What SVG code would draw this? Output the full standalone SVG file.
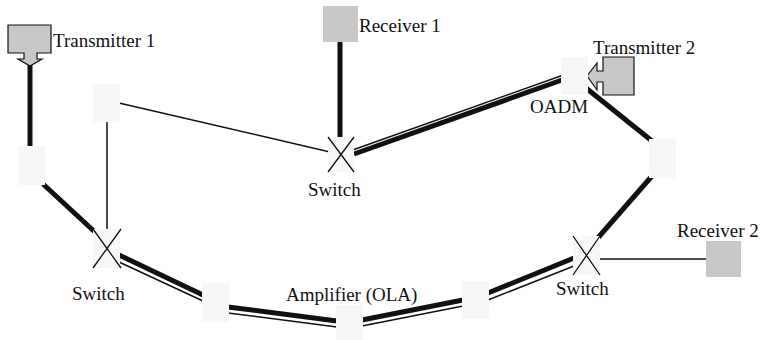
<svg xmlns="http://www.w3.org/2000/svg" width="761" height="340" viewBox="0 0 761 340">
  <style>
    .label { font-family: "Liberation Serif", "Times New Roman", serif; font-size: 19px; fill: #111; }
    .thick { stroke: #111; stroke-width: 5; fill: none; }
    .thin { stroke: #111; stroke-width: 1.5; fill: none; }
    .node { fill: #f7f7f7; stroke: none; }
    .term { fill: #c8c8c8; }
    .tx { fill: #c8c8c8; stroke: #111; stroke-width: 1.2; }
    .cross { stroke: #111; stroke-width: 1.3; fill: none; }
  </style>
  <rect width="761" height="340" fill="#ffffff"/>

  <g id="connectors">
    <!-- single thick fibre -->
    <line class="thick" x1="30" y1="64" x2="30" y2="148"/>
    <line class="thick" x1="43" y1="184" x2="96" y2="233"/>
    <line class="thick" x1="340" y1="42" x2="340" y2="139"/>
    <line class="thick" x1="586" y1="88" x2="652" y2="141"/>
    <line class="thick" x1="652" y1="176" x2="596" y2="240"/>
    <!-- thin links -->
    <line class="thin" x1="107" y1="121" x2="107" y2="231"/>
    <line class="thin" x1="119" y1="103" x2="330" y2="152"/>
    <line class="thin" x1="599" y1="259" x2="707" y2="259"/>
    <!-- double fibre: switch 2 to OADM -->
    <line class="thick" x1="354" y1="154" x2="562" y2="80"/>
    <line class="thin" x1="354" y1="149.5" x2="562" y2="75.5"/>
    <!-- double fibre: switch 1 to amplifier -->
    <line class="thick" x1="119" y1="255" x2="203" y2="295"/>
    <line class="thin" x1="119" y1="262" x2="203" y2="301"/>
    <!-- double fibre: amplifier to node -->
    <line class="thick" x1="228" y1="307" x2="337" y2="321"/>
    <line class="thin" x1="228" y1="313" x2="337" y2="327"/>
    <!-- double fibre: node to node -->
    <line class="thick" x1="362" y1="320" x2="463" y2="300"/>
    <line class="thin" x1="362" y1="326" x2="463" y2="306"/>
    <!-- double fibre: node to switch 3 -->
    <line class="thick" x1="488" y1="293" x2="574" y2="258"/>
    <line class="thin" x1="488" y1="300" x2="574" y2="266"/>
  </g>

  <g id="transmitter1">
    <path class="tx" d="M8,25 H51 V53 H37 V59 H42 L30,66 L18,59 H24 V53 H8 Z"/>
    <text class="label" x="53" y="47">Transmitter 1</text>
  </g>

  <g id="receiver1">
    <rect class="term" x="323" y="6" width="35" height="36"/>
    <text class="label" x="359" y="32">Receiver 1</text>
  </g>

  <g id="transmitter2">
    <path class="tx" d="M634,57 V95 H603 V82 H597 V90 L587,76 L597,63 V71 H603 V57 Z"/>
    <text class="label" x="593" y="54">Transmitter 2</text>
  </g>

  <g id="receiver2">
    <rect class="term" x="706" y="241" width="35" height="36"/>
    <text class="label" x="677" y="237">Receiver 2</text>
  </g>

  <g id="node-left-upper">
    <rect class="node" x="18" y="146" width="27" height="39"/>
  </g>

  <g id="node-left-top">
    <rect class="node" x="93" y="84" width="27" height="38"/>
  </g>

  <g id="switch1">
    <rect class="node" x="93" y="229" width="27" height="39"/>
    <path class="cross" d="M93,229 L121,268 M121,229 L93,268"/>
    <text class="label" x="72" y="300">Switch</text>
  </g>

  <g id="switch2">
    <rect class="node" x="328" y="137" width="26" height="35"/>
    <path class="cross" d="M328,137 L354,172 M354,137 L328,172"/>
    <text class="label" x="308" y="196">Switch</text>
  </g>

  <g id="switch3">
    <rect class="node" x="573" y="236" width="27" height="39"/>
    <path class="cross" d="M573,236 L600,275 M600,236 L573,275"/>
    <text class="label" x="556" y="295">Switch</text>
  </g>

  <g id="oadm">
    <rect class="node" x="561" y="57" width="27" height="38"/>
    <text class="label" x="530" y="113">OADM</text>
  </g>

  <g id="node-right">
    <rect class="node" x="649" y="139" width="27" height="39"/>
  </g>

  <g id="amplifier">
    <rect class="node" x="202" y="283" width="27" height="39"/>
  </g>

  <g id="ola">
    <rect class="node" x="336" y="305" width="27" height="39"/>
    <text class="label" x="286" y="301">Amplifier (OLA)</text>
  </g>

  <g id="node-bottom-right">
    <rect class="node" x="462" y="281" width="27" height="38"/>
  </g>
</svg>
